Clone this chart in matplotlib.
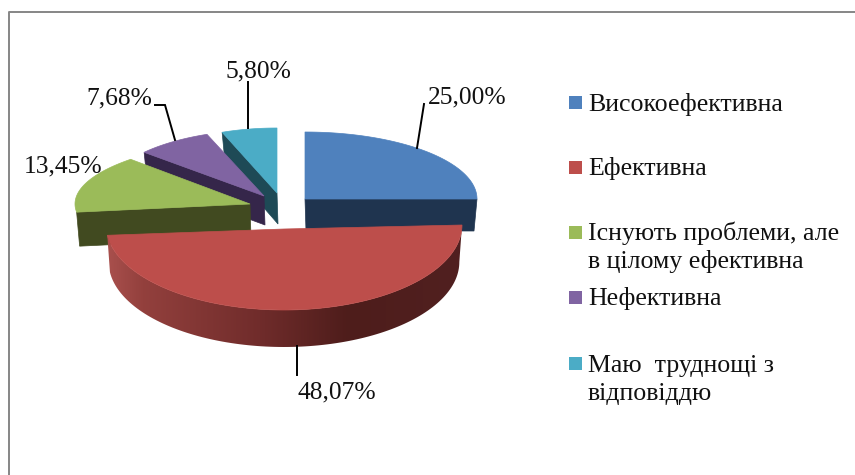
import numpy as np
import matplotlib
matplotlib.use('Agg')
import matplotlib.pyplot as plt
from matplotlib.colors import LinearSegmentedColormap
from matplotlib.patches import Polygon, Rectangle

categories = ['Високоефективна', 'Ефективна', 'Існують проблеми, але\nв цілому ефективна',
              'Нефективна', 'Маю  труднощі з\nвідповіддю']
values = [25.00, 48.07, 13.45, 7.68, 5.80]

top_colors = ['#4F81BD', '#BD4E4B', '#9BBB59', '#8064A2', '#4BACC6']
side_colors = ['#1F344F', '#4F1E1C', '#414A20', '#35264A', '#1E4A56']

# pie is drawn in perspective, so each slice gets its own apex, ellipse centre and radii
apexes = [(305, 199), (284, 229), (250, 204), (264, 196), (277, 193)]
centers = [(305, 199), (284, 225), (297, 204), (264, 196), (277, 193)]
radii = [(172, 67), (178, 85), (222, 67.5), (160, 66), (154, 65)]
depths = [32, 37, 34, 29, 31]

# label position, leader line points
label_pos = [(428, 103), (297, 398), (24, 172), (86, 104), (225, 77)]
leaders = [[(417, 148), (424, 104)], [(297, 346), (297, 375)], None,
           [(175, 140), (165, 105), (155, 105)], [(248, 128), (248, 82)]]

legend_y = [102, 167, 232, 297, 363]
legend_base = [111, 175, 240, 305, 372]

plt.rcParams['font.family'] = ['Liberation Serif']

fig = plt.figure(figsize=(8.55, 4.75), dpi=100)
ax = fig.add_axes([0, 0, 1, 1])
ax.set_xlim(0, 855)
ax.set_ylim(475, 0)
ax.axis('off')

# chart frame
ax.plot([8.5, 8.5, 855], [475, 11.5, 11.5], color='#868686', lw=1.4, solid_capstyle='butt')


def point(i, theta, dy=0, shrink=1.0):
    cx, cy = centers[i]
    rx, ry = radii[i]
    return cx + shrink * rx * np.sin(theta), cy - ry * np.cos(theta) + dy


def arc(i, t0, t1, dy=0, shrink=1.0):
    t = np.linspace(t0, t1, 120)
    x, y = point(i, t, dy, shrink)
    return np.column_stack([x, y])


# angles clockwise from 12 o'clock
edges = np.concatenate([[0], np.cumsum(values)]) / sum(values) * 2 * np.pi

red_cmap = LinearSegmentedColormap.from_list(
    'red_side', [(0, '#A9504D'), (0.1, '#93403D'), (0.43, '#702C2B'), (0.68, '#4E1D1B'), (1, '#512020')])

# far slices first so the near ones cover them
for i in [4, 3, 2, 0, 1]:
    t0, t1 = edges[i], edges[i + 1]
    d = depths[i]
    if i == 1:
        # rounded rim with a shading gradient
        rim_top = arc(i, np.pi / 2, t1)
        rim_bottom = arc(i, t1, np.pi / 2, d, 0.985)
        rim = Polygon(np.vstack([rim_top, rim_bottom]), closed=True, fc='none', ec='none')
        ax.add_patch(rim)
        xmin, xmax = rim_top[:, 0].min(), rim_top[:, 0].max()
        ymin, ymax = rim_top[:, 1].min(), rim_bottom[:, 1].max()
        img = ax.imshow(np.linspace(0, 1, 256)[None, :], cmap=red_cmap, aspect='auto',
                        extent=[xmin, xmax, ymax, ymin], zorder=1)
        img.set_clip_path(rim)
        ax.set_xlim(0, 855)
        ax.set_ylim(475, 0)
    else:
        # flat cut face that looks at the viewer
        t_face = t1 if i == 0 else t0
        ax_x, ax_y = apexes[i]
        ox, oy = point(i, t_face)
        face = [(ax_x, ax_y), (ox, oy), (ox + 3 * np.sign(ax_x - ox), oy + d), (ax_x + 1, ax_y + d)]
        ax.add_patch(Polygon(face, closed=True, fc=side_colors[i], ec=side_colors[i], lw=0.5, zorder=1))
    top = np.vstack([[apexes[i]], arc(i, t0, t1)])
    ax.add_patch(Polygon(top, closed=True, fc=top_colors[i], ec=top_colors[i], lw=0.5, zorder=1))

for i, line in enumerate(leaders):
    if line is not None:
        xs, ys = zip(*line)
        ax.plot(xs, ys, color='black', lw=1.4, zorder=2, solid_joinstyle='miter')
    txt = f'{values[i]:.2f}%'.replace('.', ',')
    ax.text(label_pos[i][0], label_pos[i][1], txt, fontsize=18.4, color='#111111',
            ha='left', va='baseline', zorder=3)

for i, name in enumerate(categories):
    ax.add_patch(Rectangle((569, legend_y[i] - 6.5), 13, 13, fc=top_colors[i], ec='none'))
    for k, part in enumerate(name.split('\n')):
        ax.text(588, legend_base[i] + k * 28, part, fontsize=18.6, color='#111111',
                ha='left', va='baseline')

fig.savefig('out.png', dpi=100)
